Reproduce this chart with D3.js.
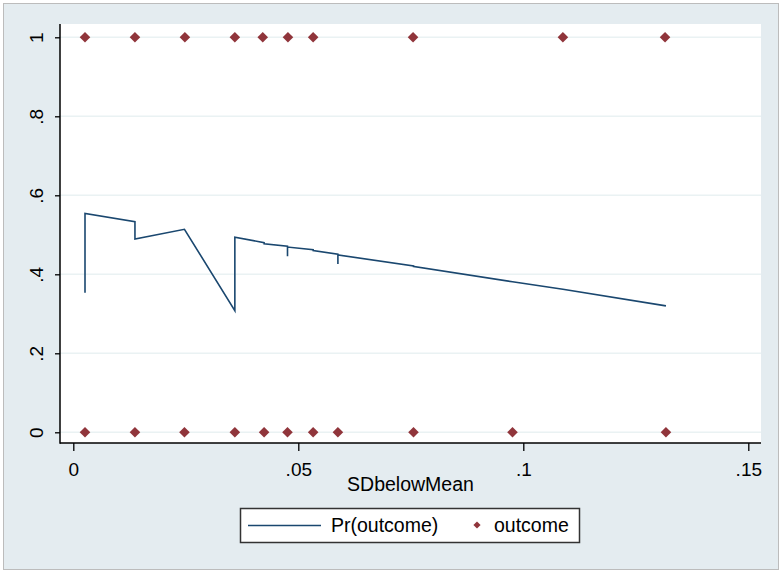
<!DOCTYPE html>
<html>
<head>
<meta charset="utf-8">
<script src="https://cdn.jsdelivr.net/npm/d3@7"></script>
<style>
  html, body { margin: 0; padding: 0; background: #ffffff; }
  svg { display: block; font-family: "Liberation Sans", Arial, sans-serif; }
</style>
</head>
<body>
<svg id="chart" width="782" height="571"></svg>
<script>
// Observed outcome (0/1) at each SDbelowMean value
const outcomeOneX  = [0.0026, 0.0137, 0.0248, 0.0359, 0.0421, 0.0477, 0.0533, 0.0755, 0.1088, 0.1315];
const outcomeZeroX = [0.0026, 0.0137, 0.0247, 0.0359, 0.0424, 0.0476, 0.0533, 0.0588, 0.0756, 0.0976, 0.1317];

// Predicted probability, in sort order of SDbelowMean
const predX  = [0.0026, 0.0026, 0.0137, 0.0137, 0.0247, 0.0359, 0.0359, 0.0424, 0.0424, 0.0476, 0.0476, 0.0476,
                0.0533, 0.0533, 0.0588, 0.0588, 0.0588, 0.0756, 0.0756, 0.0756, 0.0976, 0.1088, 0.1317];
const predPr = [0.353, 0.554, 0.533, 0.489, 0.514, 0.308, 0.494, 0.480, 0.477, 0.471, 0.446, 0.469,
                0.462, 0.460, 0.451, 0.426, 0.449, 0.421, 0.418, 0.420, 0.381, 0.362, 0.320];

const xTicks = [0, 0.05, 0.1, 0.15];
const xTickLabels = ["0", ".05", ".1", ".15"];
const yTicks = [0, 0.2, 0.4, 0.6, 0.8, 1];
const yTickLabels = ["0", ".2", ".4", ".6", ".8", "1"];

const xTitle = "SDbelowMean";
const legendLabels = ["Pr(outcome)", "outcome"];

const lineColor = "#1a476f";
const markerColor = "#90353b";
const bgColor = "#e4ecf0";
const gridColor = "#eaf2f3";
const fontSize = 19.5;

const svg = d3.select("#chart");

// Graph region
svg.append("rect").attr("x", 0).attr("y", 0).attr("width", 782).attr("height", 571).attr("fill", "#ffffff");
svg.append("rect")
  .attr("x", 3.5).attr("y", 3.5).attr("width", 775).attr("height", 566)
  .attr("fill", bgColor).attr("stroke", "#bcbcbc").attr("stroke-width", 1);

const plot = { left: 60, right: 761, top: 24, bottom: 443 };

const x = d3.scaleLinear().domain([0, 0.15]).range([73.3, 748.3]);
const y = d3.scaleLinear().domain([0, 1]).range([432.3, 37.3]);

// Plot region
svg.append("rect")
  .attr("x", plot.left).attr("y", plot.top)
  .attr("width", plot.right - plot.left).attr("height", plot.bottom - plot.top)
  .attr("fill", "#ffffff");

// Horizontal grid lines
svg.append("g").selectAll("line").data(yTicks).join("line")
  .attr("x1", plot.left).attr("x2", plot.right)
  .attr("y1", d => y(d)).attr("y2", d => y(d))
  .attr("stroke", gridColor).attr("stroke-width", 1.5);

// Y axis
const yAxis = d3.axisLeft(y).tickValues(yTicks)
  .tickFormat((d, i) => yTickLabels[i]).tickSize(5).tickPadding(0).tickSizeOuter(0);
const gy = svg.append("g").attr("transform", `translate(${plot.left},0)`).call(yAxis);
gy.select(".domain").remove();
gy.selectAll(".tick line").attr("stroke", "#000").attr("stroke-width", 1.3);
gy.selectAll(".tick text")
  .attr("x", null).attr("dy", null)
  .attr("transform", "translate(-17,0) rotate(-90)")
  .attr("text-anchor", "middle")
  .attr("font-size", 19).attr("fill", "#000")
  .attr("font-family", "Liberation Sans, Arial, sans-serif");
svg.append("line")
  .attr("x1", plot.left).attr("x2", plot.left)
  .attr("y1", plot.top).attr("y2", plot.bottom + 0.7)
  .attr("stroke", "#000").attr("stroke-width", 1.5);

// X axis
const xAxis = d3.axisBottom(x).tickValues(xTicks)
  .tickFormat((d, i) => xTickLabels[i]).tickSize(8).tickPadding(0).tickSizeOuter(0);
const gx = svg.append("g").attr("transform", `translate(0,${plot.bottom})`).call(xAxis);
gx.select(".domain").remove();
gx.selectAll(".tick line").attr("stroke", "#000").attr("stroke-width", 1.3);
gx.selectAll(".tick text")
  .attr("y", 33).attr("dy", null)
  .attr("font-size", 19).attr("fill", "#000")
  .attr("font-family", "Liberation Sans, Arial, sans-serif");
svg.append("line")
  .attr("x1", plot.left).attr("x2", plot.right)
  .attr("y1", plot.bottom).attr("y2", plot.bottom)
  .attr("stroke", "#000").attr("stroke-width", 1.5);

// Axis title
svg.append("text")
  .attr("x", (plot.left + plot.right) / 2).attr("y", 491)
  .attr("text-anchor", "middle").attr("font-size", fontSize).attr("fill", "#000")
  .text(xTitle);

// Predicted probability line
const predPoints = predX.map((v, i) => [v, predPr[i]]);
svg.append("path")
  .datum(predPoints)
  .attr("fill", "none").attr("stroke", lineColor).attr("stroke-width", 1.6)
  .attr("stroke-linejoin", "miter")
  .attr("d", d3.line().x(d => x(d[0])).y(d => y(d[1])));

// Observed outcome markers (diamonds)
const diamond = d3.symbol().type(d3.symbolSquare).size(56);
const outcomePoints = outcomeOneX.map(v => [v, 1]).concat(outcomeZeroX.map(v => [v, 0]));
svg.append("g").selectAll("path").data(outcomePoints).join("path")
  .attr("d", diamond)
  .attr("transform", d => `translate(${x(d[0])},${y(d[1])}) rotate(45)`)
  .attr("fill", markerColor);

// Legend
const lg = svg.append("g");
lg.append("rect")
  .attr("x", 240.5).attr("y", 508.5).attr("width", 339).attr("height", 34)
  .attr("fill", "#ffffff").attr("stroke", "#333").attr("stroke-width", 1.5);
lg.append("line")
  .attr("x1", 248).attr("x2", 321).attr("y1", 525.5).attr("y2", 525.5)
  .attr("stroke", lineColor).attr("stroke-width", 1.5);
lg.append("text").attr("x", 331).attr("y", 532)
  .attr("font-size", fontSize).attr("fill", "#000").text(legendLabels[0]);
lg.append("path")
  .attr("d", d3.symbol().type(d3.symbolSquare).size(26))
  .attr("transform", "translate(477,525) rotate(45)")
  .attr("fill", markerColor);
lg.append("text").attr("x", 494).attr("y", 532)
  .attr("font-size", fontSize).attr("fill", "#000").text(legendLabels[1]);
</script>
</body>
</html>
